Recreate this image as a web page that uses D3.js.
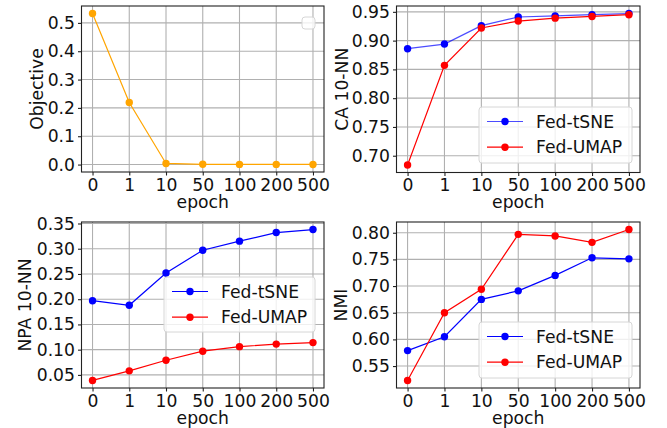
<!DOCTYPE html>
<html>
<head>
<meta charset="utf-8">
<script src="https://cdn.jsdelivr.net/npm/d3@7"></script>
<style>
  body { margin: 0; background: #fff; }
  svg text { font-family: "DejaVu Sans", sans-serif; fill: #111; }
</style>
</head>
<body>
<svg id="chart" width="667" height="428"></svg>
<script>
// epochs on the x axis (categorical, evenly spaced)
const epochs = ["0", "1", "10", "50", "100", "200", "500"]

// panel values
const objective = [0.533, 0.219, 0.004, 0.001, 0.0006, 0.0006, 0.0004]
const caTsne = [0.886, 0.894, 0.926, 0.941, 0.943, 0.945, 0.947]
const caUmap = [0.684, 0.857, 0.922, 0.934, 0.939, 0.942, 0.945]
const npaTsne = [0.197, 0.188, 0.252, 0.297, 0.315, 0.332, 0.338]
const npaUmap = [0.039, 0.058, 0.079, 0.097, 0.106, 0.111, 0.114]
const nmiTsne = [0.579, 0.605, 0.675, 0.691, 0.720, 0.753, 0.751]
const nmiUmap = [0.523, 0.650, 0.694, 0.797, 0.794, 0.782, 0.806]

// y tick labels per panel
const objTicks = [0.0, 0.1, 0.2, 0.3, 0.4, 0.5]
const caTicks = [0.70, 0.75, 0.80, 0.85, 0.90, 0.95]
const npaTicks = [0.05, 0.10, 0.15, 0.20, 0.25, 0.30, 0.35]
const nmiTicks = [0.55, 0.60, 0.65, 0.70, 0.75, 0.80]

const svg = d3.select("#chart")
const fs = 17.2

function panel(p) {
  let g = svg.append("g")
  let x = d3.scalePoint().domain(epochs).range([p.left, p.right]).padding(0.3)
  let all = p.series.flatMap(s => s.values)
  let lo = d3.min(all), hi = d3.max(all), m = (hi - lo) * 0.05
  let y = d3.scaleLinear().domain([lo - m, hi + m]).range([p.bottom, p.top])

  // grid
  g.selectAll(".gx").data(epochs).enter().append("line")
    .attr("x1", d => x(d)).attr("x2", d => x(d))
    .attr("y1", p.top).attr("y2", p.bottom)
    .style("stroke", "#b0b0b0").style("stroke-width", 1.1)
  g.selectAll(".gy").data(p.ticks).enter().append("line")
    .attr("x1", p.left).attr("x2", p.right)
    .attr("y1", d => y(d)).attr("y2", d => y(d))
    .style("stroke", "#b0b0b0").style("stroke-width", 1.1)

  // axes
  let xa = d3.axisBottom(x).tickSize(3.5).tickPadding(3)
  let ya = d3.axisLeft(y).tickValues(p.ticks).tickFormat(d3.format(p.fmt)).tickSize(3.5).tickPadding(3)
  let gx = g.append("g").attr("transform", `translate(0,${p.bottom})`).call(xa)
  let gy = g.append("g").attr("transform", `translate(${p.left},0)`).call(ya)
  for (let a of [gx, gy]) {
    a.select(".domain").remove()
    a.selectAll("line").style("stroke", "#222").style("stroke-width", 1.1)
    a.selectAll("text").style("font-size", fs + "px").style("fill", "#111")
      .style("font-family", "DejaVu Sans")
  }

  // lines and markers
  for (let s of p.series) {
    let line = d3.line().x((d, i) => x(epochs[i])).y(d => y(d))
    g.append("path").datum(s.values).attr("d", line)
      .style("fill", "none").style("stroke", s.color).style("stroke-width", 1.2)
      .style("opacity", s.alpha || 1)
    g.selectAll(null).data(s.values).enter().append("circle")
      .attr("cx", (d, i) => x(epochs[i])).attr("cy", d => y(d)).attr("r", 3.7)
      .style("fill", s.color)
  }

  // frame
  g.append("rect").attr("x", p.left).attr("y", p.top)
    .attr("width", p.right - p.left).attr("height", p.bottom - p.top)
    .style("fill", "none").style("stroke", "#222").style("stroke-width", 1.1)

  // labels
  g.append("text").attr("x", (p.left + p.right) / 2).attr("y", p.bottom + 35.5)
    .attr("text-anchor", "middle").style("font-size", fs + "px").text("epoch")
  g.append("text").attr("transform", `translate(${p.ylx},${(p.top + p.bottom) / 2}) rotate(-90)`)
    .attr("text-anchor", "middle").attr("dy", "0.35em").style("font-size", fs + "px").text(p.ylabel)

  // legend
  let L = p.legend
  let lg = g.append("g")
  lg.append("rect").attr("x", L.x).attr("y", L.y).attr("width", L.w).attr("height", L.h)
    .attr("rx", 3).style("fill", "white").style("fill-opacity", 0.8)
    .style("stroke", "#d6d6d6").style("stroke-width", 1)
  if (L.named) {
    p.series.forEach((s, i) => {
      let cy = L.y + 14.5 + i * 25.7
      lg.append("line").attr("x1", L.x + 8).attr("x2", L.x + 44).attr("y1", cy).attr("y2", cy)
        .style("stroke", s.color).style("stroke-width", 1.2).style("opacity", s.alpha || 1)
      lg.append("circle").attr("cx", L.x + 26).attr("cy", cy).attr("r", 3.7).style("fill", s.color)
      lg.append("text").attr("x", L.x + 57).attr("y", cy).attr("dy", "0.36em")
        .style("font-size", fs + "px").text(s.name)
    })
  }
}

panel({
  left: 81.5, right: 324, top: 6, bottom: 172, ylx: 37, ylabel: "Objective",
  ticks: objTicks, fmt: ".1f",
  series: [{ name: "", values: objective, color: "orange" }],
  legend: { x: 302, y: 17, w: 13, h: 12, named: false }
})
panel({
  left: 396.5, right: 640, top: 6, bottom: 172.5, ylx: 342, ylabel: "CA 10-NN",
  ticks: caTicks, fmt: ".2f",
  series: [{ name: "Fed-tSNE", values: caTsne, color: "blue", alpha: 0.7 },
           { name: "Fed-UMAP", values: caUmap, color: "red" }],
  legend: { x: 479, y: 107, w: 153, h: 56, named: true }
})
panel({
  left: 81.5, right: 324, top: 222, bottom: 388, ylx: 25, ylabel: "NPA 10-NN",
  ticks: npaTicks, fmt: ".2f",
  series: [{ name: "Fed-tSNE", values: npaTsne, color: "blue" },
           { name: "Fed-UMAP", values: npaUmap, color: "red" }],
  legend: { x: 164, y: 277, w: 151, h: 55, named: true }
})
panel({
  left: 396.5, right: 640, top: 222, bottom: 388, ylx: 341, ylabel: "NMI",
  ticks: nmiTicks, fmt: ".2f",
  series: [{ name: "Fed-tSNE", values: nmiTsne, color: "blue" },
           { name: "Fed-UMAP", values: nmiUmap, color: "red" }],
  legend: { x: 479, y: 322, w: 153, h: 56, named: true }
})
</script>
</body>
</html>
